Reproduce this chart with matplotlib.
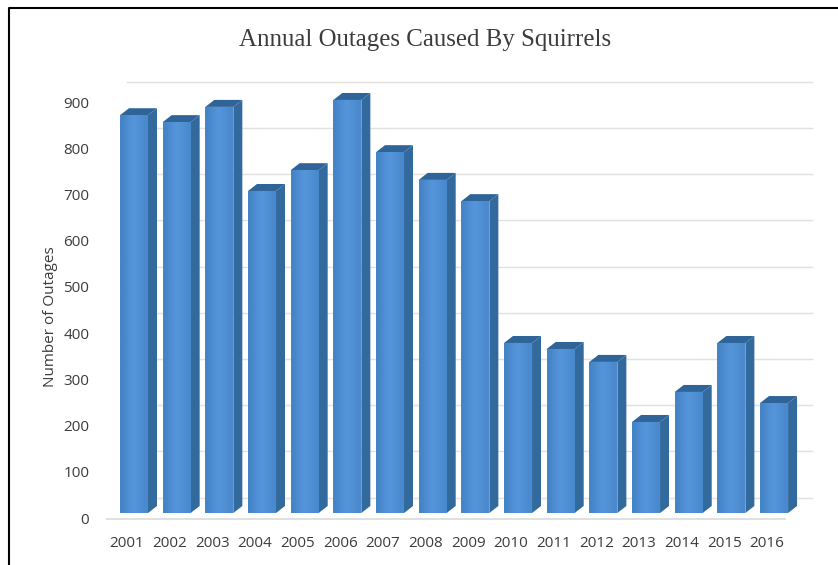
import numpy as np
import matplotlib
matplotlib.use('Agg')
import matplotlib.pyplot as plt
from matplotlib.patches import Polygon

years = ['2001', '2002', '2003', '2004', '2005', '2006', '2007', '2008',
         '2009', '2010', '2011', '2012', '2013', '2014', '2015', '2016']
outages = [861, 846, 879, 697, 742, 894, 781, 721,
           675, 368, 355, 327, 197, 262, 368, 238]
y_ticks = [0, 100, 200, 300, 400, 500, 600, 700, 800, 900]

W, H = 838, 565
DPI = 100
# pixel geometry of the plot
x_first = 134.0   # centre of first bar front
x_step = 42.67
y_zero = 513.0    # baseline of bar fronts
y_scale = 0.462   # pixels per outage

fig = plt.figure(figsize=(W / DPI, H / DPI), dpi=DPI)
ax = fig.add_axes([0, 0, 1, 1])
ax.axis('off')

bar_w = 28 / x_step
depth_x = 9 / x_step
depth_y = 7 / y_scale
xs = np.arange(len(years))

# back wall grid lines, shifted up from the front axis
grid_shift = 15.5 / y_scale
for t in y_ticks:
    ax.plot([-0.16, 15.9], [t + grid_shift] * 2, color='#e3e0dd', lw=1.0, zorder=1)

# floor front line
ax.plot([-0.63, 15.25], [-13, -13], color='#e0e0e0', lw=1.4, zorder=1)

bars = ax.bar(xs, outages, width=bar_w, color='#4a8bd0', zorder=3)

# horizontal shading on the front faces
shade = np.array([[0.0, 0.6, 1.0, 0.7, 0.3]])
cmap = matplotlib.colors.LinearSegmentedColormap.from_list('front', ['#4684c8', '#5595da'])
for b in bars:
    im = ax.imshow(shade, cmap=cmap, aspect='auto', interpolation='bilinear', zorder=3.1,
                   extent=(b.get_x(), b.get_x() + b.get_width(), 0, b.get_height()))
    im.set_clip_path(b)

for x, v in zip(xs, outages):
    left = x - bar_w / 2
    right = x + bar_w / 2
    # side face
    ax.add_patch(Polygon([(right, 0), (right + depth_x, depth_y),
                          (right + depth_x, v + depth_y), (right, v)],
                         closed=True, fc='#336a9e', ec='none', zorder=3))
    # top face
    ax.add_patch(Polygon([(left, v), (left + depth_x, v + depth_y),
                          (right + depth_x, v + depth_y), (right, v)],
                         closed=True, fc='#2f6499', ec='none', zorder=3))

ax.set_xlim(-x_first / x_step, (W - x_first) / x_step)
ax.set_ylim((y_zero - H) / y_scale, y_zero / y_scale)

# tick labels
for t in y_ticks:
    ax.text(-1.05, t - 7 / y_scale, str(t), ha='right', va='center',
            fontsize=11, color='#3c3c3c', family='Open Sans')
for x, yr in zip(xs, years):
    ax.text(x - 0.165, -65, yr, ha='center', va='center',
            fontsize=11, color='#3c3c3c', family='Open Sans')

fig.text(50 / W, 1 - 317 / H, 'Number of Outages', rotation=90, ha='center', va='center',
         fontsize=11, color='#3c3c3c', family='Open Sans')
fig.text(425.5 / W, 1 - 40 / H, 'Annual Outages Caused By Squirrels', ha='center', va='center',
         fontsize=17.9, color='#3c3c3c', family='Liberation Serif')

# outer border
fig.add_artist(plt.Line2D([8.5 / W, 8.5 / W, 1], [0, 1 - 7.5 / H, 1 - 7.5 / H],
                          color='black', lw=1.5))

fig.savefig('out.png', dpi=DPI)
